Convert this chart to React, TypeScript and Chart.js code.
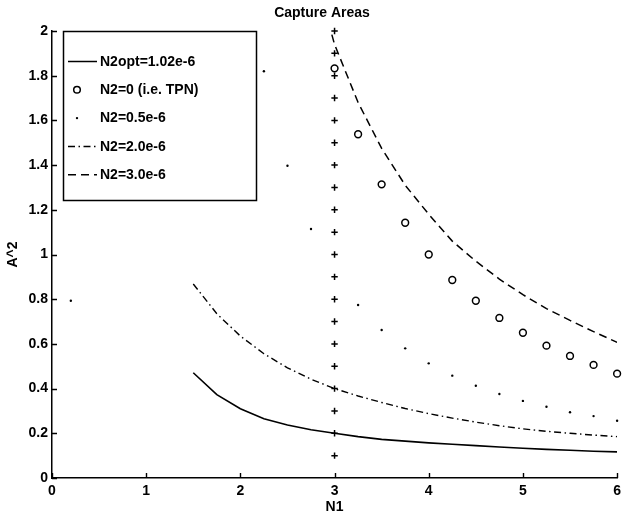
import React, { useEffect, useRef } from 'react';
import { Chart, registerables } from 'chart.js';

Chart.register(...registerables);

// ---- data ----
const curveN1 = [1.5, 1.75, 2, 2.25, 2.5, 2.75, 3, 3.25, 3.5, 3.75, 4, 4.25, 4.5, 4.75, 5, 5.25, 5.5, 5.75, 6];
const optA2 = [0.471, 0.373, 0.31, 0.265, 0.237, 0.216, 0.2, 0.185, 0.173, 0.165, 0.157, 0.151, 0.145, 0.139, 0.133, 0.128, 0.124, 0.12, 0.117];
const n2TwoA2 = [0.868, 0.735, 0.635, 0.556, 0.493, 0.442, 0.4, 0.367, 0.338, 0.311, 0.288, 0.268, 0.25, 0.234, 0.22, 0.209, 0.2, 0.192, 0.185];
const dashN1 = [2.75, 3, 3.25, 3.5, 3.75, 4, 4.25, 4.5, 4.75, 5, 5.25, 5.5, 5.75, 6];
const n2ThreeA2 = [2.32, 1.94, 1.68, 1.475, 1.31, 1.18, 1.06, 0.97, 0.89, 0.82, 0.758, 0.705, 0.655, 0.607];
const circN1 = [3, 3.25, 3.5, 3.75, 4, 4.25, 4.5, 4.75, 5, 5.25, 5.5, 5.75, 6];
const circA2 = [1.833, 1.538, 1.314, 1.142, 1.0, 0.886, 0.793, 0.716, 0.65, 0.592, 0.546, 0.506, 0.467];
const dotN1 = [0.2, 2.25, 2.5, 2.75, 3.25, 3.5, 3.75, 4, 4.25, 4.5, 4.75, 5, 5.25, 5.5, 5.75, 6];
const dotA2 = [0.793, 1.82, 1.397, 1.114, 0.774, 0.662, 0.58, 0.513, 0.458, 0.413, 0.376, 0.345, 0.319, 0.294, 0.277, 0.256];
const plusN1 = [3, 3, 3, 3, 3, 3, 3, 3, 3, 3, 3, 3, 3, 3, 3, 3, 3, 3, 3, 3];
const plusA2 = [0.1, 0.2, 0.3, 0.4, 0.5, 0.6, 0.7, 0.8, 0.9, 1.0, 1.1, 1.2, 1.3, 1.4, 1.5, 1.6, 1.7, 1.8, 1.9, 2.0];

const legendLabels = ['N2opt=1.02e-6', 'N2=0 (i.e. TPN)', 'N2=0.5e-6', 'N2=2.0e-6', 'N2=3.0e-6'];
const titleText = 'Capture Areas';
const xTitle = 'N1';
const yTitle = 'A^2';

const FONT = '"Liberation Sans", Arial, Helvetica, sans-serif';
const DASH_DOT = [7, 3.5, 1.5, 3.5];
const DASHED = [8, 5];

const pts = (xs: number[], ys: number[]) => xs.map((x, i) => ({ x, y: ys[i] }));
const fmt = (v: any) => String(Number(Number(v).toFixed(1)));

const decorPlugin = {
  id: 'decor',
  afterDraw(chart: any) {
    const ctx = chart.ctx as CanvasRenderingContext2D;
    const area = chart.chartArea;
    const xs = chart.scales.x;
    const ys = chart.scales.y;
    ctx.save();
    // inward tick marks
    ctx.strokeStyle = '#000';
    ctx.lineWidth = 1.4;
    ctx.beginPath();
    xs.ticks.forEach((t: any) => {
      const px = Math.round(xs.getPixelForValue(t.value)) + 0.5;
      ctx.moveTo(px, area.bottom);
      ctx.lineTo(px, area.bottom - 5);
    });
    ys.ticks.forEach((t: any) => {
      const py = Math.round(ys.getPixelForValue(t.value)) + 0.5;
      ctx.moveTo(area.left, py);
      ctx.lineTo(area.left + 5, py);
    });
    ctx.stroke();

    // title
    ctx.fillStyle = '#000';
    ctx.font = `bold 14px ${FONT}`;
    ctx.textAlign = 'center';
    ctx.textBaseline = 'middle';
    ctx.fillText(titleText, 322, 13.5);

    // legend box
    const box = { l: 63.5, t: 31.5, r: 256.5, b: 200.5 };
    ctx.fillStyle = '#fff';
    ctx.fillRect(box.l, box.t, box.r - box.l, box.b - box.t);
    ctx.strokeStyle = '#000';
    ctx.lineWidth = 1.5;
    ctx.setLineDash([]);
    ctx.strokeRect(box.l, box.t, box.r - box.l, box.b - box.t);

    const kinds = ['solid', 'circle', 'dot', 'dashdot', 'dashed'];
    legendLabels.forEach((lab, i) => {
      const cy = 61.5 + 28.3 * i;
      const kind = kinds[i];
      ctx.strokeStyle = '#000';
      ctx.fillStyle = '#000';
      if (kind === 'solid' || kind === 'dashdot' || kind === 'dashed') {
        ctx.lineWidth = 1.5;
        ctx.setLineDash(kind === 'solid' ? [] : kind === 'dashdot' ? DASH_DOT : DASHED);
        ctx.beginPath();
        ctx.moveTo(68, cy);
        ctx.lineTo(97, cy);
        ctx.stroke();
        ctx.setLineDash([]);
      } else if (kind === 'circle') {
        ctx.lineWidth = 1.5;
        ctx.beginPath();
        ctx.arc(77, cy, 3.3, 0, Math.PI * 2);
        ctx.stroke();
      } else {
        ctx.beginPath();
        ctx.arc(77, cy, 1.2, 0, Math.PI * 2);
        ctx.fill();
      }
      ctx.font = `bold 14px ${FONT}`;
      ctx.textAlign = 'left';
      ctx.textBaseline = 'middle';
      ctx.fillText(lab, 100, cy + 0.5);
    });
    ctx.restore();
  },
};

export default function App() {
  const ref = useRef<HTMLCanvasElement | null>(null);
  useEffect(() => {
    if (!ref.current) return;
    const tickFont = { family: FONT, size: 14, weight: 'bold' as const };
    const chart = new Chart(ref.current, {
      type: 'scatter',
      data: {
        datasets: [
          {
            label: legendLabels[0],
            data: pts(curveN1, optA2),
            showLine: true,
            borderColor: '#000',
            borderWidth: 1.6,
            pointRadius: 0,
            tension: 0,
          },
          {
            label: legendLabels[1],
            data: pts(circN1, circA2),
            showLine: false,
            pointStyle: 'circle',
            pointRadius: 3.4,
            borderColor: '#000',
            backgroundColor: 'rgba(0,0,0,0)',
            pointBorderWidth: 1.5,
            clip: false,
          },
          {
            label: legendLabels[2],
            data: pts(dotN1, dotA2),
            showLine: false,
            pointStyle: 'circle',
            pointRadius: 1.2,
            borderWidth: 0,
            pointBorderWidth: 0,
            backgroundColor: '#000',
            borderColor: '#000',
            clip: false,
          },
          {
            label: legendLabels[3],
            data: pts(curveN1, n2TwoA2),
            showLine: true,
            borderColor: '#000',
            borderWidth: 1.4,
            borderDash: DASH_DOT,
            pointRadius: 0,
            tension: 0,
          },
          {
            label: legendLabels[4],
            data: pts(dashN1, n2ThreeA2),
            showLine: true,
            borderColor: '#000',
            borderWidth: 1.5,
            borderDash: DASHED,
            pointRadius: 0,
            tension: 0,
          },
          {
            label: 'N1=3',
            data: pts(plusN1, plusA2),
            showLine: false,
            pointStyle: 'cross',
            pointRadius: 3.2,
            borderColor: '#000',
            pointBorderWidth: 1.5,
            clip: false,
          },
        ],
      },
      options: {
        animation: false,
        responsive: false,
        devicePixelRatio: 1,
        layout: { padding: { top: 31, right: 4, left: 0, bottom: 0 } },
        plugins: {
          legend: { display: false },
          title: { display: false },
          tooltip: { enabled: false },
        },
        scales: {
          x: {
            type: 'linear',
            min: 0,
            max: 6,
            ticks: { stepSize: 1, color: '#000', font: tickFont, padding: 5, maxRotation: 0, autoSkip: false, callback: fmt },
            grid: { display: false, drawTicks: false },
            border: { display: true, color: '#000', width: 1.5 },
            title: { display: true, text: xTitle, color: '#000', font: tickFont, padding: 0 },
            afterFit: (s: any) => { s.height = 38; },
          },
          y: {
            type: 'linear',
            min: 0,
            max: 2,
            ticks: { stepSize: 0.2, color: '#000', font: tickFont, padding: 4, autoSkip: false, callback: fmt },
            grid: { display: false, drawTicks: false },
            border: { display: true, color: '#000', width: 1.5 },
            title: { display: true, text: yTitle, color: '#000', font: tickFont, padding: { top: 5, bottom: 0 } },
            afterFit: (s: any) => { s.width = 52; },
          },
        },
      },
      plugins: [decorPlugin],
    } as any);
    return () => chart.destroy();
  }, []);
  return (
    <div style={{ position: 'fixed', left: 0, top: 0, width: 626, height: 516, background: '#fff' }}>
      <canvas ref={ref} width={626} height={516} style={{ display: 'block' }} />
    </div>
  );
}
